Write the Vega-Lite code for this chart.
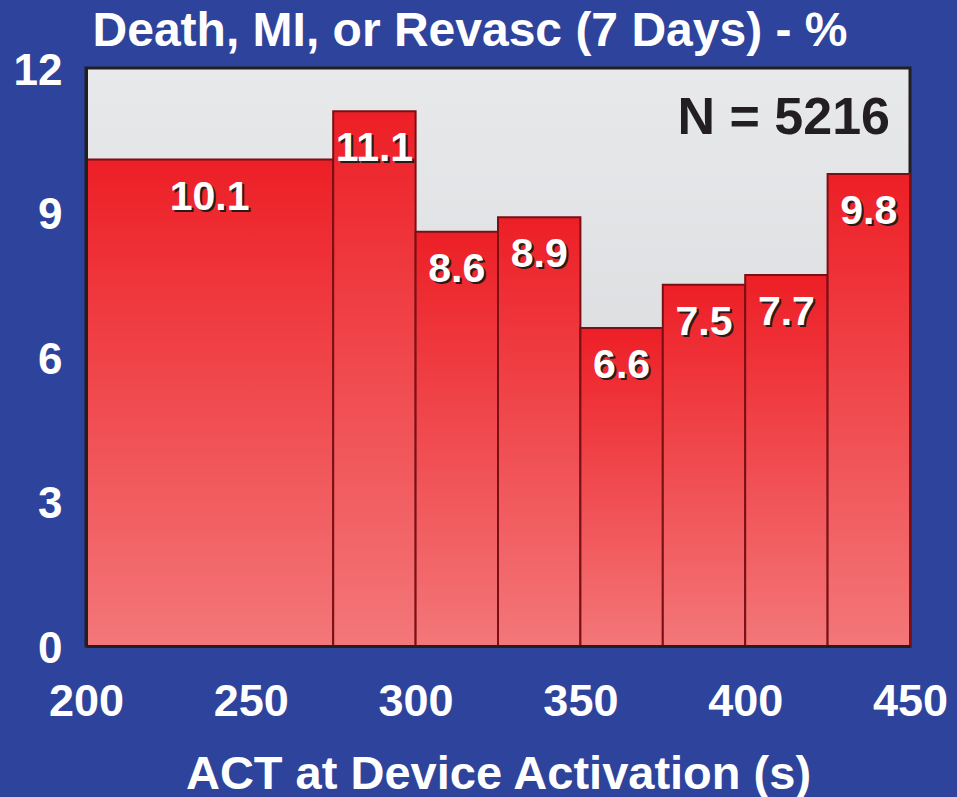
{
  "$schema": "https://vega.github.io/schema/vega-lite/v6.json",
  "width": 824,
  "height": 578,
  "autosize": {"type": "none"},
  "padding": {"left": 86, "top": 68, "right": 47, "bottom": 151},
  "background": "#2e449c",
  "config": {
    "font": "Liberation Sans",
    "view": {
      "fill": {"gradient": "linear", "x1": 0, "y1": 0, "x2": 0, "y2": 1, "stops": [{"offset": 0, "color": "#e8e9eb"}, {"offset": 1, "color": "#d3d4d7"}]},
      "stroke": "#231f20",
      "strokeWidth": 3
    }
  },
  "title": {
    "text": "Death, MI, or Revasc (7 Days) - %",
    "anchor": "middle",
    "frame": "group",
    "dx": -28,
    "offset": -55,
    "baseline": "bottom",
    "fontSize": 48,
    "fontWeight": "bold",
    "color": "white"
  },
  "data": {
    "values": [
      {"start": 200, "end": 275, "value": 10.1},
      {"start": 275, "end": 300, "value": 11.1},
      {"start": 300, "end": 325, "value": 8.6},
      {"start": 325, "end": 350, "value": 8.9},
      {"start": 350, "end": 375, "value": 6.6},
      {"start": 375, "end": 400, "value": 7.5},
      {"start": 400, "end": 425, "value": 7.7},
      {"start": 425, "end": 450, "value": 9.8}
    ]
  },
  "encoding": {
    "x": {
      "field": "start",
      "type": "quantitative",
      "scale": {"domain": [200, 450], "nice": false},
      "axis": {
        "values": [200, 250, 300, 350, 400, 450],
        "grid": false,
        "ticks": false,
        "tickSize": 0,
        "domain": true,
        "domainColor": "#231f20",
        "domainWidth": 3,
        "zindex": 1,
        "labelFontSize": 45,
        "labelFontWeight": "bold",
        "labelColor": "white",
        "labelBaseline": "alphabetic",
        "labelPadding": 69,
        "labelFlush": false,
        "title": "ACT at Device Activation (s)",
        "titleFontSize": 47,
        "titleFontWeight": "bold",
        "titleColor": "white",
        "titleBaseline": "alphabetic",
        "titleY": 142
      }
    },
    "y": {
      "field": "value",
      "type": "quantitative",
      "scale": {"domain": [0, 12], "nice": false},
      "axis": {
        "values": [0, 3, 6, 9, 12],
        "grid": false,
        "ticks": false,
        "tickSize": 0,
        "domain": true,
        "domainColor": "#231f20",
        "domainWidth": 3,
        "zindex": 1,
        "labelFontSize": 44,
        "labelFontWeight": "bold",
        "labelColor": "white",
        "labelBaseline": "middle",
        "labelOffset": 3,
        "labelPadding": 24,
        "labelFlush": false,
        "title": null
      }
    }
  },
  "layer": [
    {
      "mark": {
        "type": "rect",
        "fill": {"gradient": "linear", "x1": 0, "y1": 0, "x2": 0, "y2": 1, "stops": [{"offset": 0, "color": "#ed1f26"}, {"offset": 1, "color": "#f37779"}]},
        "stroke": "#7a1016",
        "strokeWidth": 2
      },
      "encoding": {
        "x2": {"field": "end"},
        "y2": {"datum": 0}
      }
    },
    {
      "mark": {"type": "text", "fontSize": 41, "fontWeight": "bold", "color": "#2a1a1a", "baseline": "middle", "align": "center", "dx": 2, "dy": 40},
      "encoding": {
        "x": {"field": "mid", "type": "quantitative"},
        "text": {"field": "value", "type": "quantitative", "format": ".1f"}
      },
      "transform": [{"calculate": "(datum.start + datum.end) / 2", "as": "mid"}]
    },
    {
      "mark": {"type": "text", "fontSize": 41, "fontWeight": "bold", "color": "white", "baseline": "middle", "align": "center", "dy": 38},
      "encoding": {
        "x": {"field": "mid", "type": "quantitative"},
        "text": {"field": "value", "type": "quantitative", "format": ".1f"}
      },
      "transform": [{"calculate": "(datum.start + datum.end) / 2", "as": "mid"}]
    },
    {
      "data": {"values": [{"x": 450, "y": 12, "label": "N = 5216"}]},
      "mark": {"type": "text", "fontSize": 52, "fontWeight": "bold", "color": "#231f20", "baseline": "middle", "align": "right", "dx": -20, "dy": 50},
      "encoding": {
        "x": {"field": "x", "type": "quantitative"},
        "y": {"field": "y", "type": "quantitative"},
        "text": {"field": "label"}
      }
    }
  ]
}
